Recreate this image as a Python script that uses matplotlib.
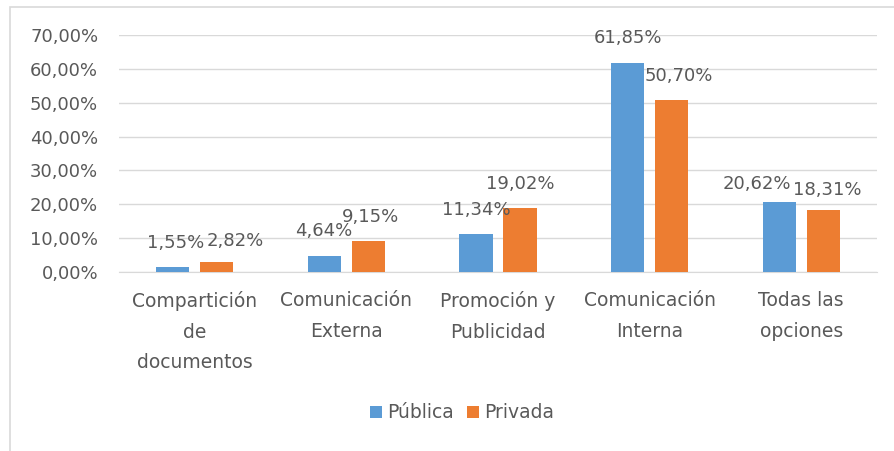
import matplotlib
matplotlib.use("Agg")
import matplotlib.pyplot as plt
import numpy as np
from matplotlib.patches import Rectangle
from matplotlib.ticker import FuncFormatter

categories = ["Compartición\nde\ndocumentos", "Comunicación\nExterna",
              "Promoción y\nPublicidad", "Comunicación\nInterna", "Todas las\nopciones"]
publica = [1.55, 4.64, 11.34, 61.85, 20.62]
privada = [2.82, 9.15, 19.02, 50.70, 18.31]
series_names = ["Pública", "Privada"]
yticks = [0, 10, 20, 30, 40, 50, 60, 70]

# label offsets in pixels (dx, dy) — style only
pub_off = [(3, 24), (-1, 25), (0, 24), (0, 25), (-22, 18)]
pri_off = [(18, 21), (2, 24), (0, 24), (7, 24), (4, 20)]

BLUE = "#5B9BD5"
ORANGE = "#ED7D31"
TXT = "#595959"
GRID = "#D9D9D9"
plt.rcParams['font.family'] = ['DejaVu Sans']

fig = plt.figure(figsize=(8.94, 4.51), dpi=100)
ax = fig.add_axes([119/894, 1-272/451, (877-119)/894, (272-35)/451])

x = np.arange(len(categories))
w = 0.22
d = 0.145
b1 = ax.bar(x - d, publica, w, color=BLUE, label=series_names[0], zorder=3)
b2 = ax.bar(x + d, privada, w, color=ORANGE, label=series_names[1], zorder=3)

px = 0.72
def fmt(v):
    return f"{v:.2f}".replace(".", ",") + "%"
for xi, v, (dx, dy) in zip(x - d, publica, pub_off):
    ax.annotate(fmt(v), (xi, v), xytext=(dx*px, dy*px), textcoords="offset points",
                ha="center", va="center", fontsize=13, color=TXT, zorder=4)
for xi, v, (dx, dy) in zip(x + d, privada, pri_off):
    ax.annotate(fmt(v), (xi, v), xytext=(dx*px, dy*px), textcoords="offset points",
                ha="center", va="center", fontsize=13, color=TXT, zorder=4)

ax.set_xlim(-0.5, len(categories) - 0.5)
ax.set_ylim(0, 70)
ax.set_yticks(yticks)
ax.yaxis.set_major_formatter(FuncFormatter(lambda v, p: f"{v:.2f}".replace(".", ",") + "%"))
ax.set_xticks(x)
ax.set_xticklabels(categories, linespacing=1.75, fontsize=13.5)
ax.tick_params(axis="y", length=0, labelsize=13, colors=TXT, pad=15)
ax.tick_params(axis="x", length=0, colors=TXT, pad=14)
ax.grid(axis="y", color=GRID, linewidth=1, zorder=0)
for s in ["top", "right", "left"]:
    ax.spines[s].set_visible(False)
ax.spines["bottom"].set_color(GRID)
ax.spines["bottom"].set_zorder(2)

fig.legend(handles=[b1, b2], labels=series_names, loc="center",
           bbox_to_anchor=(462/894, 1-413/451), ncol=2, frameon=False,
           fontsize=13.5, labelcolor=TXT, handlelength=0.65, handleheight=0.65,
           handletextpad=0.25, columnspacing=0.7)

fig.patches.append(Rectangle((10/894, -0.1), 1.2, 1-7/451+0.1, transform=fig.transFigure,
                             fill=False, edgecolor=GRID, linewidth=1.2, zorder=0))

fig.savefig("out.png", dpi=100)
